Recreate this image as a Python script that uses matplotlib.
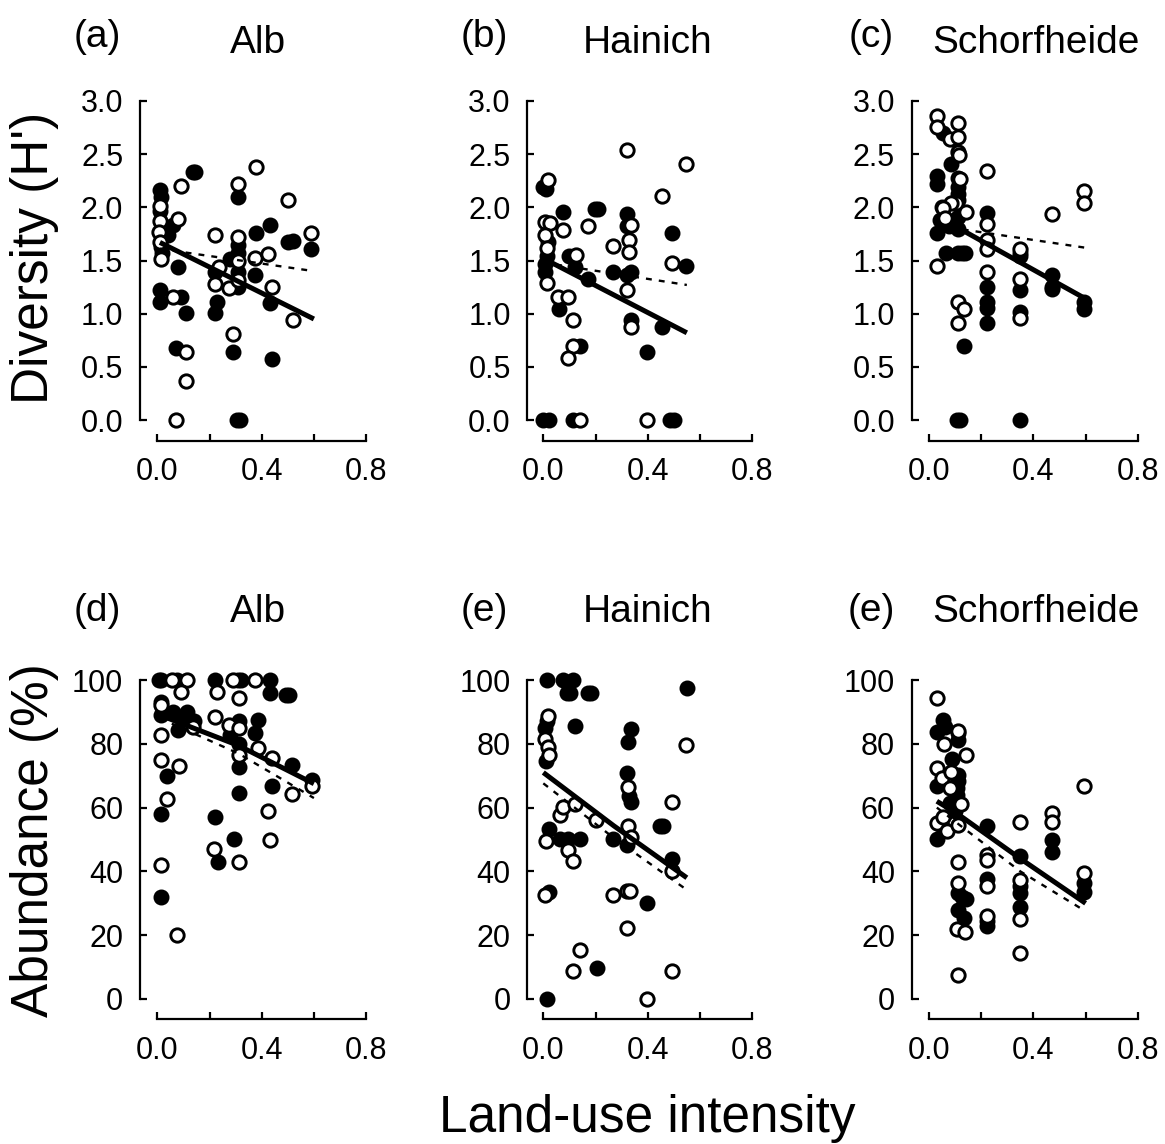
import matplotlib
matplotlib.use("Agg")
import matplotlib.pyplot as plt
import numpy as np

plt.rcParams['font.family'] = ['Liberation Sans', 'DejaVu Sans']

# ---------------- data ----------------
# Panel (a) Alb - diversity
a_xF = [0.01,0.015,0.01,0.04,0.015,0.018,0.06,0.135,0.145,0.08,0.01,0.01,0.09,0.11,0.07,0.22,0.23,0.22,0.28,0.31,0.31,0.31,0.31,0.31,0.29,0.305,0.315,0.38,0.375,0.43,0.43,0.44,0.50,0.52,0.59]
a_yF = [2.16,2.10,1.97,1.74,1.63,1.57,1.83,2.33,2.33,1.44,1.22,1.11,1.16,1.01,0.68,1.39,1.11,1.01,1.51,2.10,1.65,1.57,1.39,1.25,0.64,0.0,0.0,1.76,1.36,1.83,1.10,0.57,1.67,1.68,1.61]
a_xO = [0.01,0.01,0.005,0.01,0.015,0.08,0.09,0.06,0.11,0.11,0.07,0.22,0.235,0.22,0.275,0.31,0.31,0.31,0.31,0.29,0.38,0.375,0.425,0.44,0.50,0.52,0.59]
a_yO = [2.01,1.87,1.77,1.67,1.51,1.89,2.20,1.16,0.64,0.37,0.0,1.74,1.44,1.28,1.24,2.22,1.72,1.50,1.32,0.81,2.38,1.52,1.56,1.25,2.07,0.94,1.76]
a_fit_x = [0.01, 0.6]
a_fit_solid = [1.67, 0.95]
a_fit_dash = [1.61, 1.40]

# Panel (b) Hainich - diversity
b_xF = [0.0,0.012,0.017,0.013,0.006,0.006,0.077,0.097,0.12,0.062,0.142,0.0,0.023,0.114,0.17,0.198,0.21,0.268,0.32,0.32,0.335,0.32,0.335,0.397,0.493,0.455,0.487,0.499,0.548]
b_yF = [2.19,2.17,1.67,1.54,1.47,1.39,1.96,1.54,1.44,1.04,0.70,0.0,0.0,0.0,1.33,1.98,1.98,1.39,1.94,1.82,1.39,1.36,0.94,0.64,1.76,0.87,0.0,0.0,1.45]
b_xO = [0.017,0.006,0.026,0.006,0.013,0.013,0.077,0.126,0.058,0.093,0.114,0.114,0.093,0.142,0.17,0.268,0.32,0.335,0.33,0.33,0.32,0.335,0.397,0.454,0.493,0.548]
b_yO = [2.26,1.86,1.85,1.74,1.62,1.29,1.79,1.55,1.16,1.16,0.94,0.70,0.58,0.0,1.82,1.64,2.54,1.83,1.69,1.58,1.22,0.87,0.0,2.11,1.48,2.41]
b_fit_x = [0.0, 0.55]
b_fit_solid = [1.52, 0.82]
b_fit_dash = [1.48, 1.27]

# Panel (c) Schorfheide - diversity
c_xF = [0.055,0.083,0.03,0.03,0.11,0.11,0.11,0.112,0.05,0.11,0.042,0.055,0.075,0.03,0.11,0.064,0.11,0.125,0.137,0.135,0.107,0.117,0.224,0.224,0.224,0.224,0.224,0.35,0.35,0.35,0.35,0.35,0.471,0.471,0.471,0.594,0.594]
c_yF = [2.70,2.41,2.29,2.22,2.28,2.19,2.13,2.07,2.00,1.91,1.88,1.85,1.82,1.76,1.80,1.57,1.57,1.57,1.57,0.70,0.0,0.0,1.95,1.25,1.11,1.05,0.91,1.57,1.54,1.22,1.02,0.0,1.36,1.25,1.23,1.11,1.04]
c_xO = [0.03,0.03,0.08,0.11,0.11,0.112,0.114,0.118,0.105,0.083,0.055,0.06,0.14,0.03,0.11,0.135,0.112,0.224,0.224,0.224,0.224,0.224,0.35,0.35,0.348,0.471,0.594,0.594]
c_yO = [2.86,2.76,2.64,2.79,2.66,2.52,2.49,2.27,2.04,2.04,1.99,1.90,1.96,1.45,1.11,1.04,0.91,2.34,1.84,1.69,1.61,1.39,1.61,1.33,0.96,1.94,2.15,2.04]
c_fit_x = [0.08, 0.6]
c_fit_solid = [1.85, 1.14]
c_fit_dash = [1.81, 1.62]

# Panel (d) Alb - abundance
d_xF = [0.005,0.015,0.076,0.013,0.013,0.061,0.089,0.112,0.08,0.14,0.038,0.013,0.013,0.222,0.277,0.22,0.231,0.292,0.31,0.32,0.312,0.312,0.312,0.312,0.385,0.375,0.43,0.432,0.44,0.495,0.505,0.517,0.592]
d_yF = [100,100,100,93.2,89,90,88.5,90,84.3,87,70,58,32,100,82.8,57.2,42.9,50.1,100,100,87,80,72.7,64.7,87.5,83.5,100,96,66.8,95.3,95.3,73.4,68.5]
d_xO = [0.057,0.114,0.089,0.013,0.137,0.013,0.016,0.083,0.038,0.013,0.074,0.23,0.222,0.273,0.218,0.29,0.312,0.312,0.312,0.312,0.375,0.387,0.44,0.425,0.432,0.517,0.592]
d_yO = [100,100,96.3,92.2,85.4,82.8,75,73,62.6,42,20.1,96.3,88.5,86,47,100,94.3,85,76.5,42.9,100,78.6,75.5,58.8,49.9,64.3,66.8]
d_fit_x = [0.01, 0.31, 0.6]
d_fit_solid = [89, 79.5, 67.5]
d_fit_dash = [88, 77, 63]

# Panel (e) Hainich - abundance
e_xF = [0.013,0.077,0.114,0.092,0.102,0.173,0.183,0.123,0.013,0.006,0.009,0.02,0.023,0.013,0.065,0.093,0.142,0.204,0.268,0.335,0.323,0.32,0.329,0.335,0.32,0.397,0.449,0.459,0.493,0.552]
e_yF = [100,100,100,96,96,95.8,95.8,85.7,87,84.9,74.6,53.2,33.4,0,50.1,50.1,50.1,9.7,50.1,84.7,80.7,70.8,63.7,61.9,48.3,30.1,54.1,54.1,43.9,97.4]
e_xO = [0.017,0.006,0.017,0.023,0.01,0.006,0.065,0.077,0.123,0.093,0.114,0.142,0.114,0.203,0.268,0.325,0.325,0.335,0.32,0.333,0.32,0.397,0.493,0.493,0.493,0.548]
e_yO = [88.7,81.5,78.9,76.5,49.4,32.7,57.7,60.3,61.2,46.6,43.3,15.4,8.7,56.2,32.7,66.6,54.1,50.9,34.0,34.0,22.4,0,61.9,40.0,8.7,79.6]
e_fit_x = [0.0, 0.27, 0.55]
e_fit_solid = [71, 54.3, 38]
e_fit_dash = [67.6, 50.5, 34.2]

# Panel (f) Schorfheide - abundance
f_xF = [0.055,0.03,0.061,0.09,0.11,0.11,0.11,0.11,0.108,0.108,0.03,0.048,0.03,0.08,0.1,0.11,0.125,0.141,0.11,0.135,0.224,0.224,0.224,0.224,0.35,0.35,0.35,0.35,0.471,0.471,0.594,0.594]
f_yF = [87.5,83.8,85.4,75.2,83.5,81.2,70.3,68.2,66.1,64,66.8,54.1,50.1,61.4,58.8,33.2,31.9,31.4,28,25.4,54.1,37.7,24.6,22.8,44.7,35.5,33.2,28.8,49.9,46,36.5,33.4]
f_xO = [0.03,0.058,0.03,0.048,0.08,0.084,0.112,0.141,0.122,0.03,0.055,0.068,0.112,0.112,0.112,0.108,0.138,0.112,0.224,0.224,0.224,0.224,0.35,0.35,0.35,0.35,0.471,0.471,0.594,0.594]
f_yO = [94.3,79.9,72.3,69.2,66.1,71.3,84,76.5,61.2,55.3,57.2,52.8,54.6,42.9,36.5,21.9,21,7.6,45.2,43.6,35.5,25.9,55.6,37.4,25.1,14.4,58.2,55.4,66.8,39.5]
f_fit_x = [0.03, 0.11, 0.35, 0.6]
f_fit_solid = [62, 58, 44, 30]
f_fit_dash = [60, 55, 40, 27.5]

panel_letters = ['(a)', '(b)', '(c)', '(d)', '(e)', '(e)']
site_names = ['Alb', 'Hainich', 'Schorfheide', 'Alb', 'Hainich', 'Schorfheide']
x_ticks = [0.0, 0.2, 0.4, 0.6, 0.8]
x_ticklabels = ['0.0', '', '0.4', '', '0.8']
div_ticks = [0.0, 0.5, 1.0, 1.5, 2.0, 2.5, 3.0]
div_ticklabels = ['0.0', '0.5', '1.0', '1.5', '2.0', '2.5', '3.0']
abu_ticks = [0, 20, 40, 60, 80, 100]
abu_ticklabels = ['0', '20', '40', '60', '80', '100']

panels = [
    (a_xF, a_yF, a_xO, a_yO, a_fit_x, a_fit_solid, a_fit_dash),
    (b_xF, b_yF, b_xO, b_yO, b_fit_x, b_fit_solid, b_fit_dash),
    (c_xF, c_yF, c_xO, c_yO, c_fit_x, c_fit_solid, c_fit_dash),
    (d_xF, d_yF, d_xO, d_yO, d_fit_x, d_fit_solid, d_fit_dash),
    (e_xF, e_yF, e_xO, e_yO, e_fit_x, e_fit_solid, e_fit_dash),
    (f_xF, f_yF, f_xO, f_yO, f_fit_x, f_fit_solid, f_fit_dash),
]

# ---------------- layout (pixels) ----------------
W, H = 1165, 1144
fig = plt.figure(figsize=(W / 100, H / 100), dpi=100)

col_x0 = [157.3, 543.3, 929.0]     # pixel of x = 0
col_spine = [140.0, 527.3, 911.7]  # pixel of left spine
px_per_x = 261.0
rows = [
    dict(ytop_val=3.0, ytop_px=101.0, y0_px=420.0, spine_px=440.7, top_val=3.05),
    dict(ytop_val=100.0, ytop_px=680.0, y0_px=999.0, spine_px=1019.0, top_val=101.7),
]

title_lx = [97, 484, 871]
title_sx = [258, 648, 1036]
title_y = [[47, 53], [621, 622]]

fs_tick = 22
fs_title = 28
fs_label = 37

for i, (xF, yF, xO, yO, fx, fs, fd) in enumerate(panels):
    r, c = divmod(i, 3)
    R = rows[r]
    x0 = col_x0[c]
    xl = (col_spine[c] - x0) / px_per_x
    xr = 0.82
    ppy = (R['y0_px'] - R['ytop_px']) / R['ytop_val']
    yb = -(R['spine_px'] - R['y0_px']) / ppy
    yt = R['top_val']
    left_px = col_spine[c]
    right_px = x0 + xr * px_per_x
    top_px = R['y0_px'] - yt * ppy
    bot_px = R['spine_px']
    ax = fig.add_axes([left_px / W, 1 - bot_px / H, (right_px - left_px) / W, (bot_px - top_px) / H])
    ax.set_xlim(xl, xr)
    ax.set_ylim(yb, yt)
    for s in ['top', 'right']:
        ax.spines[s].set_visible(False)
    ax.spines['left'].set_linewidth(1.6)
    ax.spines['bottom'].set_linewidth(1.6)
    ax.spines['bottom'].set_bounds(0, 0.8)
    if r == 0:
        ax.spines['left'].set_bounds(0, 3.0)
        ax.set_yticks(div_ticks)
        ax.set_yticklabels(div_ticklabels)
    else:
        ax.spines['left'].set_bounds(0, 100)
        ax.set_yticks(abu_ticks)
        ax.set_yticklabels(abu_ticklabels)
    ax.set_xticks(x_ticks)
    ax.set_xticklabels(x_ticklabels)
    ax.tick_params(direction='in', length=5, width=1.6, labelsize=fs_tick, pad=12)

    ax.plot(xF, yF, 'o', ms=10.0, mfc='black', mec='black', mew=1.5, zorder=3, clip_on=False)
    ax.plot(xO, yO, 'o', ms=9.6, mfc='white', mec='black', mew=2.1, zorder=3, clip_on=False)
    ax.plot(fx, fd, color='black', lw=1.7, ls=(0, (2.5, 3.0)), zorder=4)
    ax.plot(fx, fs, color='black', lw=3.6, solid_capstyle='butt', zorder=5)

    fig.text(title_lx[c] / W, 1 - title_y[r][0] / H, panel_letters[i], fontsize=fs_title,
             ha='center', va='baseline')
    fig.text(title_sx[c] / W, 1 - title_y[r][1] / H, site_names[i], fontsize=fs_title,
             ha='center', va='baseline')

fig.text(35 / W, 1 - 258 / H, "Diversity (H')", rotation=90, fontsize=fs_label,
         ha='center', va='center')
fig.text(35 / W, 1 - 840 / H, "Abundance (%)", rotation=90, fontsize=fs_label,
         ha='center', va='center')
fig.text(647 / W, 1 - 1132 / H, "Land-use intensity", fontsize=fs_label,
         ha='center', va='baseline')

fig.savefig('out.png', dpi=100, facecolor='white')
